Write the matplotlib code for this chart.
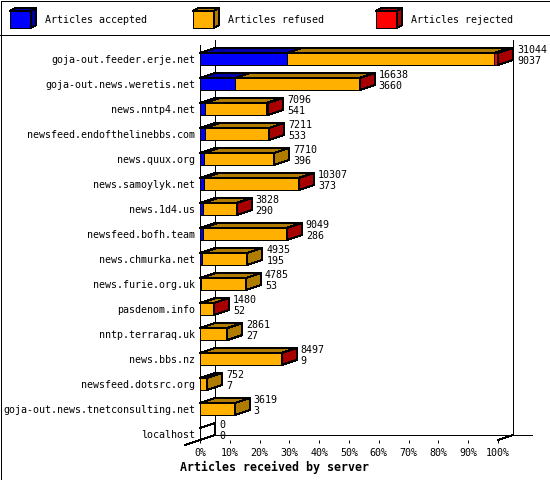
import numpy as np
import matplotlib
matplotlib.use('Agg')
import matplotlib.pyplot as plt
from matplotlib.patches import Polygon, Rectangle

# data
servers = ['goja-out.feeder.erje.net', 'goja-out.news.weretis.net', 'news.nntp4.net',
           'newsfeed.endofthelinebbs.com', 'news.quux.org', 'news.samoylyk.net',
           'news.1d4.us', 'newsfeed.bofh.team', 'news.chmurka.net', 'news.furie.org.uk',
           'pasdenom.info', 'nntp.terraraq.uk', 'news.bbs.nz', 'newsfeed.dotsrc.org',
           'goja-out.news.tnetconsulting.net', 'localhost']
offered = [31044, 16638, 7096, 7211, 7710, 10307, 3828, 9049, 4935, 4785, 1480, 2861, 8497, 752, 3619, 0]
accepted = [9037, 3660, 541, 533, 396, 373, 290, 286, 195, 53, 52, 27, 9, 7, 3, 0]
rejected = [390, 60, 240, 40, 0, 50, 30, 80, 0, 0, 40, 0, 20, 0, 0, 0]  # estimated
series = ['Articles accepted', 'Articles refused', 'Articles rejected']
x_ticks = [0, 10, 20, 30, 40, 50, 60, 70, 80, 90, 100]
x_title = 'Articles received by server'

front_colors = ['#0000ff', '#ffb000', '#ff0000']
shade_colors = ['#0000a8', '#b07c00', '#a80000']

plt.rcParams['font.family'] = ['DejaVu Sans Mono']
plt.rcParams['font.size'] = 7.2
plt.rcParams['patch.antialiased'] = False
plt.rcParams['lines.antialiased'] = False

# layout in pixels
W, H = 550, 480
PLOT_L, PLOT_R, PLOT_T, PLOT_B = 200, 498, 45, 440
DEPTH = (15, 5)
ROW0, ROW_STEP, BAR_H = 59, 25, 12
PX = 0.72  # one pixel in points at 100 dpi
LW = 1 * PX

offered = np.array(offered, dtype=float)
accepted = np.array(accepted, dtype=float)
rejected = np.array(rejected, dtype=float)
refused = offered - accepted - rejected
scale = 100.0 / offered.max()
segs = [accepted * scale, refused * scale, rejected * scale]

fig = plt.figure(figsize=(W / 100, H / 100), dpi=100)

# background / legend layer in pixel coordinates
lg = fig.add_axes([0, 0, 1, 1], zorder=0)
lg.set_xlim(0, W)
lg.set_ylim(H, 0)
lg.axis('off')
lg.add_patch(Rectangle((0.5, 0.5), W - 1, H - 1, fill=False, lw=LW, ec='black'))
lg.plot([0, W], [35, 35], color='black', lw=LW)
for k, name in enumerate(series):
    x0 = 10 + 183 * k
    lg.add_patch(Rectangle((x0, 11), 21, 17, fc=front_colors[k], ec='black', lw=LW))
    lg.add_patch(Polygon([(x0, 11), (x0 + 21, 11), (x0 + 26, 8), (x0 + 5, 8)],
                         fc=shade_colors[k], ec='black', lw=LW))
    lg.add_patch(Polygon([(x0 + 21, 11), (x0 + 21, 28), (x0 + 26, 25), (x0 + 26, 8)],
                         fc=shade_colors[k], ec='black', lw=LW))
    lg.text(x0 + 35, 20, name, va='center', ha='left')
lg.text(180, 467, x_title, va='center', ha='left', fontweight='bold', fontsize=8.35)

# main plot
ax = fig.add_axes([PLOT_L / W, 1 - PLOT_B / H, (PLOT_R - PLOT_L) / W, (PLOT_B - PLOT_T) / H],
                  zorder=1)
ax.patch.set_visible(False)
n = len(servers)
ax.set_xlim(0, 100)
ax.set_ylim((PLOT_B - ROW0) / ROW_STEP, (PLOT_T - ROW0) / ROW_STEP)
for s in ax.spines.values():
    s.set_visible(False)

ddx = DEPTH[0] / (PLOT_R - PLOT_L) * 100
ddy = DEPTH[1] / ROW_STEP
half = BAR_H / 2 / ROW_STEP
fx = DEPTH[0] / (PLOT_R - PLOT_L)
fy = DEPTH[1] / (PLOT_B - PLOT_T)

# frame lines
frame = dict(color='black', lw=LW, transform=ax.transAxes, clip_on=False, zorder=1)
ax.plot([0, 0], [0, 1], **frame)
ax.plot([fx, fx], [fy, 1 + fy], **frame)
ax.plot([1 + fx, 1 + fx], [fy, 1 + fy], **frame)
ax.plot([fx, (532 - PLOT_L) / (PLOT_R - PLOT_L)], [fy, fy], **frame)
ax.plot([-fx, fx], [-fy, fy], **frame)
ax.plot([1, 1 + fx], [0, fy], **frame)

ys = np.arange(n)
for i in range(n):
    left = 0.0
    last = None
    for k in range(3):
        v = segs[k][i]
        if v <= 0:
            continue
        ax.barh(i, v, left=left, height=2 * half, color=front_colors[k],
                edgecolor='black', linewidth=LW, zorder=3, clip_on=False)
        ax.add_patch(Polygon([(left, i - half), (left + v, i - half),
                              (left + v + ddx, i - half - ddy), (left + ddx, i - half - ddy)],
                             fc=shade_colors[k], ec='black', lw=LW, zorder=3, clip_on=False))
        left += v
        last = k
    if last is not None:
        ax.add_patch(Polygon([(left, i - half), (left, i + half),
                              (left + ddx, i + half - ddy), (left + ddx, i - half - ddy)],
                             fc=shade_colors[last], ec='black', lw=LW, zorder=3, clip_on=False))
    else:
        # empty bar: only the outline of its top and end
        ax.plot([left, left + ddx, left + ddx], [i - half, i - half - ddy, i + half - ddy],
                color='black', lw=LW, zorder=3, clip_on=False)
    ax.annotate(f'{int(offered[i])}', xy=(left, i), xytext=((DEPTH[0] + 4) * PX, 9 * PX),
                textcoords='offset points', va='center', ha='left', annotation_clip=False)
    ax.annotate(f'{int(accepted[i])}', xy=(left, i), xytext=((DEPTH[0] + 4) * PX, -2 * PX),
                textcoords='offset points', va='center', ha='left', annotation_clip=False)

ax.set_yticks(ys, servers)
ax.tick_params(axis='y', length=0, pad=4.5 * PX)
ax.set_xticks(x_ticks, [f'{t}%' for t in x_ticks])
ax.tick_params(axis='x', direction='out', length=3 * PX, width=LW, pad=5 * PX)

fig.savefig('out.png', dpi=100)
